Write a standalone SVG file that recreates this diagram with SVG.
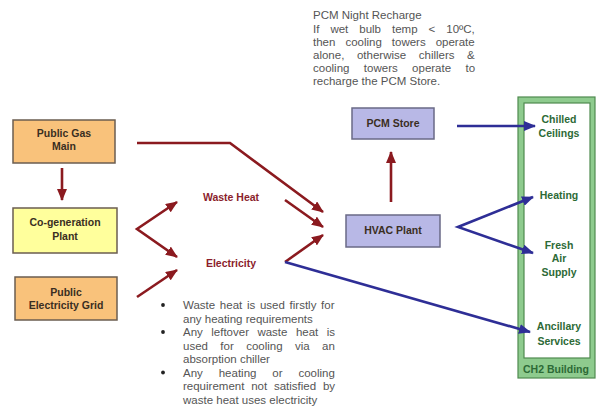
<svg xmlns="http://www.w3.org/2000/svg" width="598" height="406" viewBox="0 0 598 406">
<style>
.box{stroke:#6b5d50;stroke-width:1.5}
.orange{fill:#f9c27b}
.yellow{fill:#ffff9c}
.lav{fill:#b8b8e6;stroke:#6a6a86}
.lbl{font-family:"Liberation Sans",Arial,sans-serif;font-weight:bold;font-size:10.5px;fill:#3a2e22;text-anchor:middle}
.red{font-family:"Liberation Sans",Arial,sans-serif;font-weight:bold;font-size:10.5px;fill:#8b1e2c;text-anchor:middle}
.grn{font-family:"Liberation Sans",Arial,sans-serif;font-weight:bold;font-size:10.5px;fill:#2d6a36;text-anchor:middle}
.note{font-family:"Liberation Sans",Arial,sans-serif;font-size:11.5px;fill:#555}
.r{fill:none;stroke:#8b1a1f;stroke-width:2.6}
.b{fill:none;stroke:#2e2e96;stroke-width:2.6}
</style>
<defs>
<marker id="ar" markerUnits="userSpaceOnUse" markerWidth="12" markerHeight="10" refX="11" refY="5" orient="auto-start-reverse"><path d="M0,0 L12,5 L0,10 z" fill="#8b1a1f"/></marker>
<marker id="ab" markerUnits="userSpaceOnUse" markerWidth="12" markerHeight="10" refX="11" refY="5" orient="auto-start-reverse"><path d="M0,0 L12,5 L0,10 z" fill="#2e2e96"/></marker>
</defs>

<g id="building">
<rect x="518" y="97" width="77" height="281" fill="#8ecb8e" stroke="#4f8a4f" stroke-width="1.2"/>
<rect x="524" y="103" width="66" height="255" fill="#fff" stroke="#4f8a4f" stroke-width="1.2"/>
<text class="grn" x="556" y="373">CH2 Building</text>
</g>

<g id="gas"><rect class="box orange" x="13" y="120" width="102" height="43"/>
<text class="lbl" x="64" y="137">Public Gas</text><text class="lbl" x="64" y="150">Main</text></g>
<g id="cogen"><rect class="box yellow" x="13" y="208" width="104" height="45"/>
<text class="lbl" x="65" y="226">Co-generation</text><text class="lbl" x="65" y="240">Plant</text></g>
<g id="grid"><rect class="box orange" x="15" y="277" width="102" height="43"/>
<text class="lbl" x="66" y="296">Public</text><text class="lbl" x="66" y="309">Electricity Grid</text></g>
<g id="hvac"><rect class="box lav" x="346" y="215" width="94" height="32"/>
<text class="lbl" x="393" y="234">HVAC Plant</text></g>
<g id="pcm"><rect class="box lav" x="352" y="108" width="82" height="31"/>
<text class="lbl" x="393" y="127">PCM Store</text></g>

<g id="wasteheat"><text class="red" x="231" y="201">Waste Heat</text></g>
<g id="electricity"><text class="red" x="231" y="267">Electricity</text></g>

<g id="chilled"><text class="grn" x="559" y="123">Chilled</text><text class="grn" x="559" y="137">Ceilings</text></g>
<g id="heating"><text class="grn" x="559" y="199">Heating</text></g>
<g id="freshair"><text class="grn" x="559" y="249">Fresh</text><text class="grn" x="559" y="262">Air</text><text class="grn" x="559" y="276">Supply</text></g>
<g id="ancillary"><text class="grn" x="559" y="330">Ancillary</text><text class="grn" x="559" y="345">Services</text></g>

<g id="connectors">
<line class="r" x1="62" y1="168" x2="62" y2="200" marker-end="url(#ar)"/>
<polyline class="r" points="137,143 230,143 323,212" marker-end="url(#ar)"/>
<polyline class="r" points="177,202 137,229 177,257" marker-start="url(#ar)" marker-end="url(#ar)"/>
<line class="r" x1="137" y1="297" x2="177" y2="270" marker-end="url(#ar)"/>
<line class="r" x1="285" y1="200" x2="323" y2="227" marker-end="url(#ar)"/>
<line class="r" x1="285" y1="262" x2="323" y2="235" marker-end="url(#ar)"/>
<line class="r" x1="391" y1="202" x2="391" y2="152" marker-end="url(#ar)"/>
<line class="b" x1="457" y1="126" x2="535" y2="126" marker-end="url(#ab)"/>
<polyline class="b" points="533,197 458,227 533,253" marker-start="url(#ab)" marker-end="url(#ab)"/>
<line class="b" x1="285" y1="262" x2="530" y2="332" marker-end="url(#ab)"/>
</g>

<g id="pcmnote" class="note">
<text x="313" y="19">PCM Night Recharge</text>
<text x="313" y="33" word-spacing="7.8">If wet bulb temp &lt; 10ºC,</text>
<text x="313" y="46" word-spacing="6.8">then cooling towers operate</text>
<text x="313" y="59" word-spacing="9.4">alone, otherwise chillers &amp;</text>
<text x="313" y="72" word-spacing="11.2">cooling towers operate to</text>
<text x="313" y="85">recharge the PCM Store.</text>
</g>

<g id="bullets" class="note">
<circle cx="163" cy="305" r="1.9" fill="#222"/>
<circle cx="163" cy="332" r="1.9" fill="#222"/>
<circle cx="163" cy="372.5" r="1.9" fill="#222"/>
<text x="183" y="309" word-spacing="1.5">Waste heat is used firstly for</text>
<text x="183" y="322.5">any heating requirements</text>
<text x="183" y="336" word-spacing="5.25">Any leftover waste heat is</text>
<text x="183" y="349.5" word-spacing="9.2">used for cooling via an</text>
<text x="183" y="363">absorption chiller</text>
<text x="183" y="376.5" word-spacing="12.7">Any heating or cooling</text>
<text x="183" y="390" word-spacing="3.6">requirement not satisfied by</text>
<text x="183" y="403.5">waste heat uses electricity</text>
</g>
</svg>
